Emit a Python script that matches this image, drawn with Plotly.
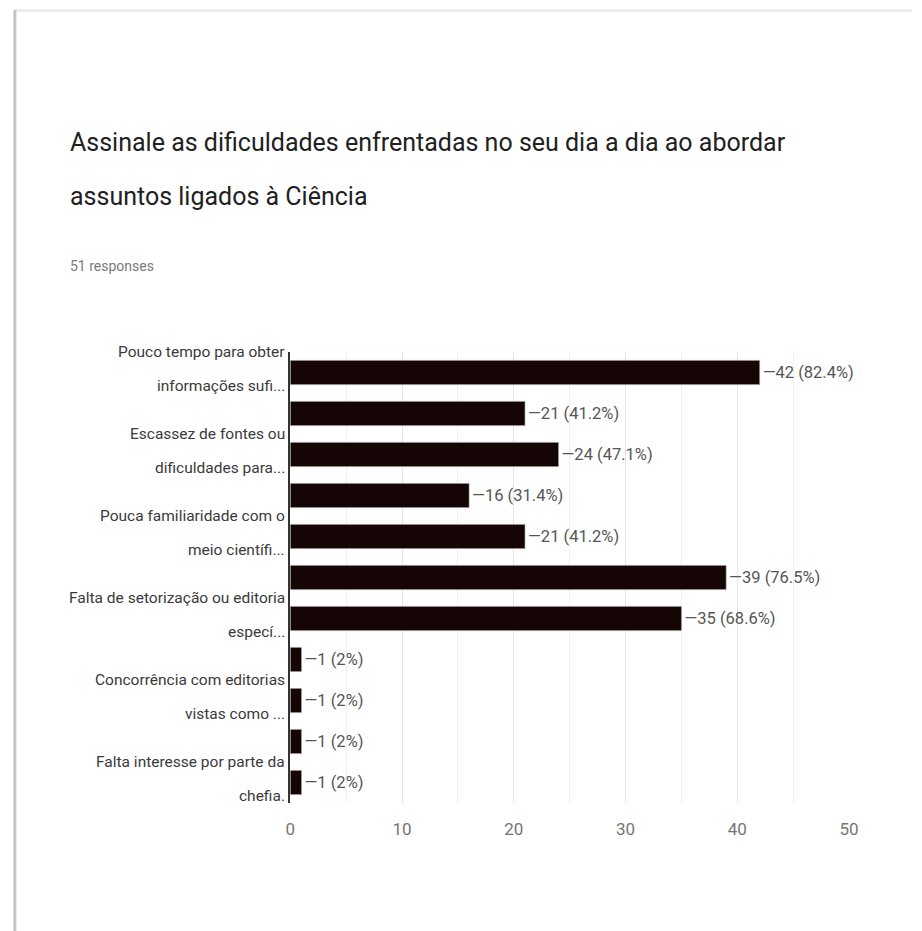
import plotly.graph_objects as go

# ---- data ----
label_line1 = ["Pouco tempo para obter", "", "Escassez de fontes ou", "",
               "Pouca familiaridade com o", "", "Falta de setorização ou editoria", "",
               "Concorrência com editorias", "", "Falta interesse por parte da"]
label_line2 = ["informações sufi...", "", "dificuldades para...", "",
               "meio científi...", "", "especí...", "",
               "vistas como ...", "", "chefia."]
categories = [f"opt{i+1}" for i in range(11)]
values = [42, 21, 24, 16, 21, 39, 35, 1, 1, 1, 1]
percents = ["82.4%", "41.2%", "47.1%", "31.4%", "41.2%", "76.5%", "68.6%", "2%", "2%", "2%", "2%"]
x_ticks = [0, 10, 20, 30, 40, 50]

title_lines = ["Assinale as dificuldades enfrentadas no seu dia a dia ao abordar",
               "assuntos ligados à Ciência"]
subtitle = "51 responses"

W, H = 922, 931
FONT = "Roboto, Arial, sans-serif"

texts = [f"\u2014{v} ({p})" for v, p in zip(values, percents)]

fig = go.Figure(go.Bar(
    y=categories, x=values, orientation="h",
    marker=dict(color="#160505", line=dict(color="#9a9a9a", width=0.6)),
    text=texts, textposition="outside", cliponaxis=False,
    textfont=dict(family=FONT, size=16.5, color="#555555"),
    hoverinfo="skip",
))

annotations = []
for cat, l1, l2 in zip(categories, label_line1, label_line2):
    if not l1:
        continue
    annotations.append(dict(x=287 / W, xref="paper", y=cat, yref="y", text=l1,
                            showarrow=False, xanchor="right", yanchor="middle", yshift=21,
                            font=dict(family=FONT, size=15.5, color="#3a3a3a")))
    annotations.append(dict(x=287 / W, xref="paper", y=cat, yref="y", text=l2,
                            showarrow=False, xanchor="right", yanchor="middle", yshift=-13,
                            font=dict(family=FONT, size=15.5, color="#3a3a3a")))

annotations.append(dict(x=64 / W, xref="paper", y=1 - 143 / H, yref="paper", text=title_lines[0],
                        showarrow=False, xanchor="left", yanchor="middle",
                        font=dict(family=FONT, size=25, color="#212121")))
annotations.append(dict(x=64 / W, xref="paper", y=1 - 196 / H, yref="paper", text=title_lines[1],
                        showarrow=False, xanchor="left", yanchor="middle",
                        font=dict(family=FONT, size=25, color="#212121")))
annotations.append(dict(x=64 / W, xref="paper", y=1 - 266 / H, yref="paper", text=subtitle,
                        showarrow=False, xanchor="left", yanchor="middle",
                        font=dict(family=FONT, size=14, color="#7a7a7a")))

shapes = [
    dict(type="line", xref="paper", yref="paper", x0=9 / W, x1=1, y0=1 - 10.5 / H, y1=1 - 10.5 / H,
         line=dict(color="#e6e6e6", width=2)),
    dict(type="line", xref="paper", yref="paper", x0=10 / W, x1=10 / W, y0=0, y1=1 - 10 / H,
         line=dict(color="#c4c4c4", width=3)),
]

fig.update_layout(
    width=W, height=H, autosize=False,
    margin=dict(l=0, r=0, t=0, b=0, pad=0),
    paper_bgcolor="white", plot_bgcolor="white",
    showlegend=False,
    bargap=0.41,
    annotations=annotations,
    shapes=shapes,
    xaxis=dict(domain=[290 / W, 858 / W], range=[0, 50],
               tickvals=x_ticks, ticktext=[str(t) for t in x_ticks],
               showgrid=True, gridcolor="#e6e6e6", gridwidth=1,
               minor=dict(dtick=5, showgrid=True, gridcolor="#f0f0f0", gridwidth=1),
               zeroline=False, showline=False, ticks="",
               ticklabelstandoff=14,
               tickfont=dict(family=FONT, size=17, color="#757575")),
    yaxis=dict(domain=[1 - 803 / H, 1 - 352 / H], range=[-0.5, 10.5], autorange=False,
               categoryorder="array", categoryarray=categories[::-1],
               showticklabels=False, showgrid=False, zeroline=False,
               showline=True, linecolor="#333333", linewidth=1.5, ticks=""),
)

fig.write_html("out.html")
